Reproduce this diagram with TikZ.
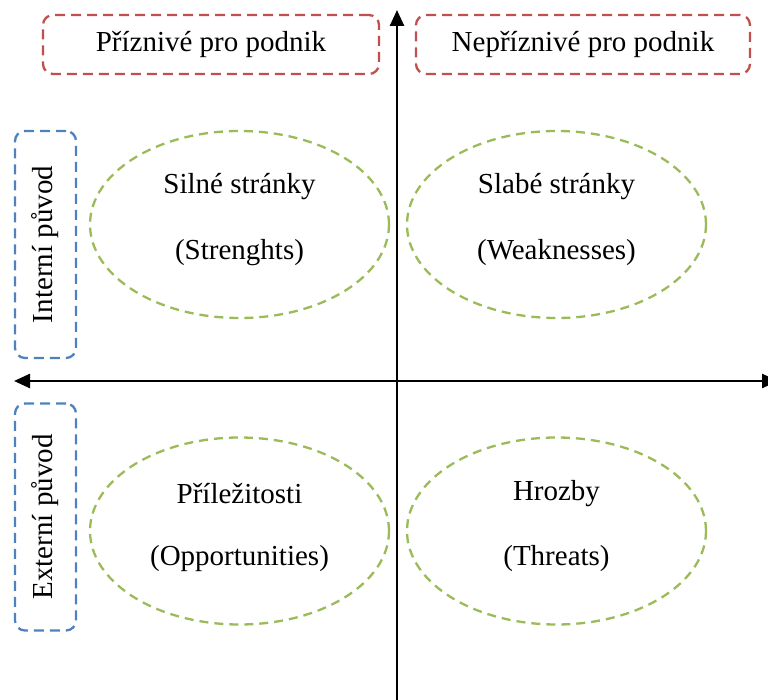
\documentclass[tikz,border=0pt]{standalone}
\usepackage{fontspec}
\setmainfont{Liberation Serif}
\usepackage{tikz}
\usetikzlibrary{calc, shapes.geometric, arrows.meta}

\definecolor{boxred}{RGB}{192,80,77}
\definecolor{boxblue}{RGB}{79,129,189}
\definecolor{boxgreen}{RGB}{155,187,89}

\tikzset{
	side box/.style = {draw=boxred, line width=2.3pt, dash pattern=on 10pt off 6pt, rounded corners=10pt, minimum height=59pt},
	origin box/.style = {draw=boxblue, line width=2.3pt, dash pattern=on 10pt off 6pt, rounded corners=10pt, minimum width=61pt, minimum height=227pt},
	field/.style = {ellipse, draw=boxgreen, line width=2.3pt, dash pattern=on 9pt off 6pt, minimum width=299pt, minimum height=187pt},
	axis tip/.style = {-{Triangle[length=16pt, width=14pt]}, line width=2.5pt},
	label text/.style = {font=\fontsize{29}{35}\selectfont, inner sep=0pt}
}

\begin{document}
\begin{tikzpicture}[x=1pt, y=-1pt]
			\useasboundingbox (0,0) rectangle (768,700);

			\def\ax{397};
			\def\ay{381};

			\coordinate (origin) at (\ax,\ay);
			\coordinate (axis top) at (\ax,10);
			\coordinate (axis bottom) at (\ax,702);
			\coordinate (axis left) at (14,\ay);
			\coordinate (axis right) at (778,\ay);

			\begin{scope}
				\draw [axis tip] (axis bottom) -- (axis top);
				\draw [axis tip] (origin) -- (axis left);
				\draw [axis tip] (origin) -- (axis right);
			\end{scope}

			\begin{scope}
				\node [side box, minimum width=336pt] (good) at (211,44.5) {};
				\node [side box, minimum width=334pt] (bad) at (583,44.5) {};
				\node [label text] at (good) {Příznivé pro podnik};
				\node [label text] at (bad) {Nepříznivé pro podnik};

				\node [origin box] (internal) at (45.5,244.5) {};
				\node [origin box] (external) at (45.5,517) {};
				\node [label text, rotate=90] at (internal) {Interní původ};
				\node [label text, rotate=90] at (external) {Externí původ};
			\end{scope}

			\begin{scope}
				\node [field] (strengths) at (239.5,224.5) {};
				\node [field] (weaknesses) at (556.5,224.5) {};
				\node [field] (opportunities) at (239.5,531) {};
				\node [field] (threats) at (556.5,531) {};

				\node [label text] at ($ (strengths) + (0,-38) $) {Silné stránky};
				\node [label text] at ($ (strengths) + (0,28) $) {(Strenghts)};
				\node [label text] at ($ (weaknesses) + (0,-38) $) {Slabé stránky};
				\node [label text] at ($ (weaknesses) + (0,28) $) {(Weaknesses)};
				\node [label text] at ($ (opportunities) + (0,-37) $) {Příležitosti};
				\node [label text] at ($ (opportunities) + (0,28) $) {(Opportunities)};
				\node [label text] at ($ (threats) + (0,-37) $) {Hrozby};
				\node [label text] at ($ (threats) + (0,28) $) {(Threats)};
			\end{scope}
		\end{tikzpicture}
\end{document}
